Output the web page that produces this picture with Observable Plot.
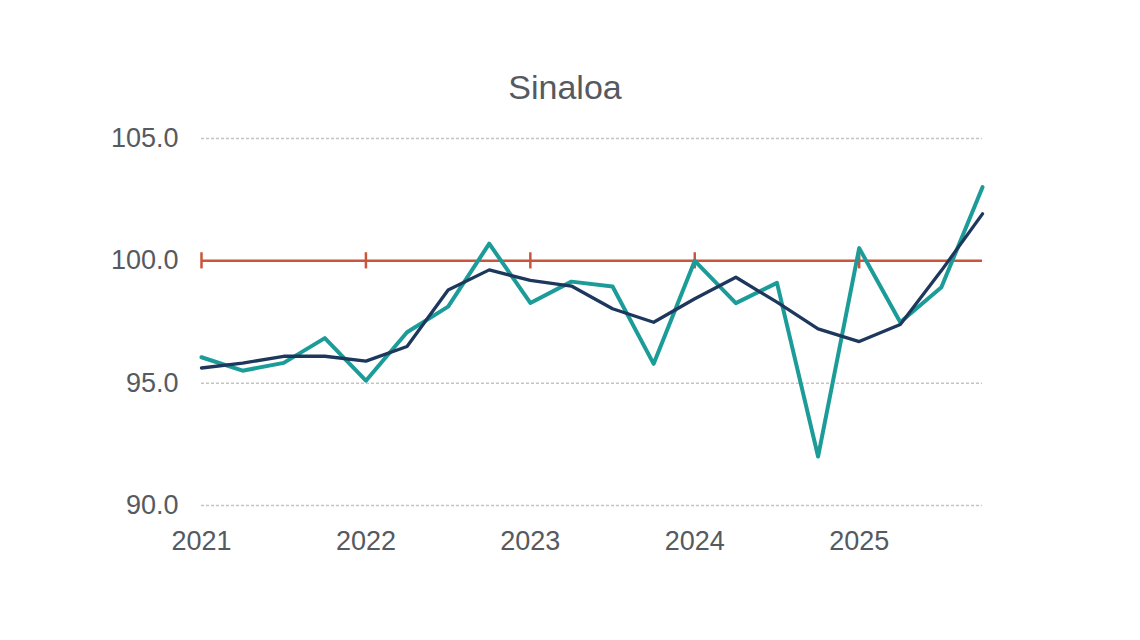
<!DOCTYPE html>
<html>
<head>
<meta charset="utf-8">
<script src="https://cdn.jsdelivr.net/npm/d3@7"></script>
<script src="https://cdn.jsdelivr.net/npm/@observablehq/plot@0.6"></script>
<style>
  html, body { margin: 0; padding: 0; background: #fff; }
  #wrap { width: 1140px; height: 640px; overflow: hidden; font-family: "Liberation Sans", Arial, sans-serif; }
  #title { padding-top: 67px; height: 40px; line-height: 40px; font-size: 34px; color: #555a60; text-align: center; padding-right: 10px; }
</style>
</head>
<body>
<div id="wrap">
  <div id="title">Sinaloa</div>
  <div id="chart"></div>
</div>
<script>
const quarters = [
  2021, 2021.25, 2021.5, 2021.75,
  2022, 2022.25, 2022.5, 2022.75,
  2023, 2023.25, 2023.5, 2023.75,
  2024, 2024.25, 2024.5, 2024.75,
  2025, 2025.25, 2025.5, 2025.75
];
const quarterly = [
  96.06, 95.51, 95.83, 96.84,
  95.10, 97.08, 98.13, 100.70,
  98.28, 99.15, 98.95, 95.79,
  100.00, 98.27, 99.10, 92.00,
  100.52, 97.49, 98.92, 103.01
];
const trend = [
  95.62, 95.82, 96.10, 96.10,
  95.90, 96.50, 98.81, 99.63,
  99.20, 98.97, 98.04, 97.49,
  98.45, 99.33, 98.31, 97.22,
  96.70, 97.40, 99.60, 101.92
];
const yearTicks = [2021, 2022, 2023, 2024, 2025];
const yTicks = [90, 95, 100, 105];
const baseline = 100;

const quarterlyData = quarters.map((q, i) => ({x: q, y: quarterly[i]}));
const trendData = quarters.map((q, i) => ({x: q, y: trend[i]}));
const tickHalf = 0.33;

const chart = Plot.plot({
  width: 1140,
  height: 533,
  marginLeft: 201,
  marginRight: 158,
  marginTop: 31,
  marginBottom: 135,
  style: {fontFamily: '"Liberation Sans", Arial, sans-serif', fontSize: "27px", color: "#555a60", background: "#fff"},
  x: {domain: [2021, 2025.75], ticks: yearTicks, tickFormat: d => String(d), label: null},
  y: {domain: [90, 105], ticks: yTicks, tickFormat: d => d.toFixed(1), label: null},
  marks: [
    Plot.ruleY(yTicks.filter(v => v !== baseline), {stroke: "#c4c4c4", strokeWidth: 1.5, strokeDasharray: "3,2"}),
    Plot.ruleY([baseline], {stroke: "#c9553b", strokeWidth: 2.5}),
    Plot.ruleX(yearTicks, {x: d => d, y1: baseline - tickHalf, y2: baseline + tickHalf, stroke: "#c9553b", strokeWidth: 2.5}),
    Plot.line(quarterlyData, {x: "x", y: "y", stroke: "#1c9c98", strokeWidth: 4}),
    Plot.line(trendData, {x: "x", y: "y", stroke: "#1e375c", strokeWidth: 3.3}),
    Plot.axisX({ticks: yearTicks, tickFormat: d => String(d), tickSize: 0, tickPadding: 25, fontSize: 27, fill: "#555a60", label: null}),
    Plot.axisY({ticks: yTicks, tickFormat: d => d.toFixed(1), tickSize: 0, tickPadding: 23, fontSize: 27, fill: "#555a60", label: null})
  ]
});
document.getElementById("chart").appendChild(chart);
</script>
</body>
</html>
